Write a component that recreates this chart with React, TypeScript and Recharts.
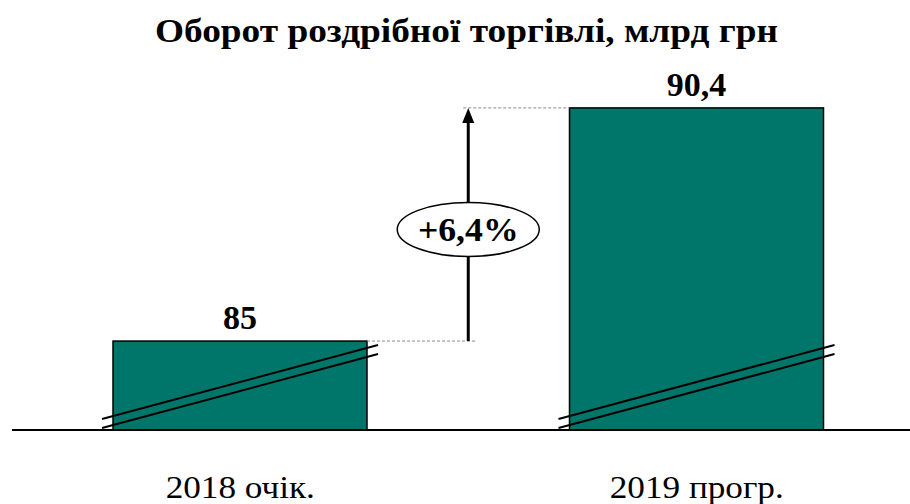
import { BarChart, Bar, XAxis, YAxis, LabelList } from "recharts";

const TITLE = "Оборот роздрібної торгівлі, млрд грн";
const CATEGORIES = ["2018 очік.", "2019 прогр."];
const VALUES = [85, 90.4];
const GROWTH_LABEL = "+6,4%";

const data = CATEGORIES.map((name, i) => ({ name, value: VALUES[i] }));

const TEAL = "#00756a";
const FONT = "Liberation Serif";

// bar boxes, filled in as the bars are drawn (index 0 comes first)
const placed: Record<number, { x: number; y: number; width: number; height: number }> = {};

function BarShape(props: any) {
  const { x, y, width, height, index } = props;
  placed[index] = { x, y, width, height };
  const bottom = y + height;

  let note = null;
  const prev = placed[index - 1];
  if (index === VALUES.length - 1 && prev) {
    const prevRight = prev.x + prev.width;
    const ax = (prevRight + x) / 2;
    const y0 = prev.y;
    const midY = (y0 + y) / 2 + 5;
    note = (
      <g>
        <line x1={prevRight} y1={y0} x2={ax + 7} y2={y0} stroke="#8c8c8c" strokeWidth={1} strokeDasharray="3 2" />
        <line x1={ax - 5} y1={y} x2={x} y2={y} stroke="#8c8c8c" strokeWidth={1} strokeDasharray="3 2" />
        <line x1={ax} y1={y0} x2={ax} y2={y + 12} stroke="#000" strokeWidth={3} />
        <polygon points={`${ax},${y} ${ax - 6},${y + 15} ${ax + 6},${y + 15}`} fill="#000" />
        <ellipse cx={ax} cy={midY} rx={71} ry={27} fill="#fff" stroke="#000" strokeWidth={1.5} />
        <text
          transform={`translate(${ax},${midY + 12}) scale(1.05,1)`}
          textAnchor="middle" fontFamily={FONT} fontWeight="bold" fontSize={34}
        >
          {GROWTH_LABEL}
        </text>
      </g>
    );
  }

  return (
    <g>
      <rect x={x} y={y} width={width} height={height} fill={TEAL} stroke="#000" strokeWidth={1.5} />
      {/* axis break marks */}
      <g stroke="#000" strokeWidth={2}>
        <line x1={x - 11} y1={bottom - 11} x2={x + width + 11} y2={bottom - 85} />
        <line x1={x - 11} y1={bottom - 2} x2={x + width + 11} y2={bottom - 76} />
      </g>
      {note}
    </g>
  );
}

function CategoryTick(props: any) {
  const { x, y, payload } = props;
  return (
    <text
      transform={`translate(${x},${y + 68}) scale(1.1,1)`}
      textAnchor="middle" fontFamily={FONT} fontSize={32} fill="#000"
    >
      {payload.value}
    </text>
  );
}

export default function App() {
  return (
    <div style={{ position: "absolute", left: 0, top: 0, width: 910, height: 504, background: "#fff" }}>
      <svg width={910} height={60} style={{ position: "absolute", left: 0, top: 0 }}>
        <text
          x={155} y={42} textLength={623} lengthAdjust="spacingAndGlyphs"
          fontFamily={FONT} fontWeight="bold" fontSize={34} fill="#000"
        >
          {TITLE}
        </text>
      </svg>
      <BarChart width={910} height={504} data={data} margin={{ top: 82, right: -15, bottom: 0, left: 12 }}>
        <XAxis
          dataKey="name"
          height={74}
          axisLine={{ stroke: "#000", strokeWidth: 2 }}
          tickLine={false}
          tickSize={0}
          tickMargin={0}
          tick={<CategoryTick />}
        />
        <YAxis hide domain={[82.94, 91]} allowDataOverflow />
        <Bar dataKey="value" barSize={254} shape={<BarShape />} isAnimationActive={false}>
          <LabelList
            dataKey="value"
            position="top"
            offset={12}
            formatter={(v: any) => String(v).replace(".", ",")}
            style={{ fontFamily: FONT, fontWeight: "bold", fontSize: 34, fill: "#000" }}
          />
        </Bar>
      </BarChart>
    </div>
  );
}
